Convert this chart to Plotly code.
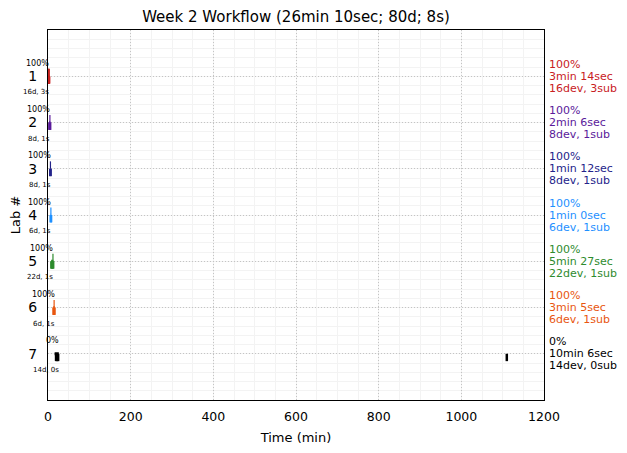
import plotly.graph_objects as go

# ---- data ----
labs = [1, 2, 3, 4, 5, 6, 7]
tick_labels = ["1", "2", "3", "4", "5", "6", "7"]
start_min = [0.0, 3.23, 5.33, 6.53, 7.53, 12.98, 16.07]
end_min = [3.23, 5.33, 6.53, 7.53, 12.98, 16.07, 26.17]
pct_text = ["100%", "100%", "100%", "100%", "100%", "100%", "0%"]
duration_text = ["3min 14sec", "2min 6sec", "1min 12sec", "1min 0sec",
                 "5min 27sec", "3min 5sec", "10min 6sec"]
n_dev = [16, 8, 8, 6, 22, 6, 14]
n_sub = [3, 1, 1, 1, 1, 1, 0]
dev_times = [
    [0.3, 1.1, 1.9, 2.7],
    [3.6, 4.4, 5.1],
    [5.6, 6.2],
    [6.8, 7.3],
    [8.2, 9.6, 11.0, 12.5],
    [13.5, 14.6, 15.5],
    [19.5, 22.0, 24.5, 1110.0],
]
sub_times = [
    [0.8, 1.9, 3.1],
    [4.6],
    [5.9],
    [7.0],
    [12.0],
    [14.8],
    [],
]
colors = ["#c8201e", "#5a1a9a", "#23238a", "#1e90ff", "#2e8b2e", "#e8560f", "#000000"]
title = "Week 2 Workflow (26min 10sec; 80d; 8s)"

fig = go.Figure()
annotations = []

for i, lab in enumerate(labs):
    c = colors[i]
    # duration bar
    fig.add_trace(go.Scatter(x=[start_min[i], end_min[i]], y=[lab, lab], mode="lines",
                             line=dict(color=c, width=3), showlegend=False, hoverinfo="skip"))
    # device ticks (below the line)
    xs, ys = [], []
    for t in dev_times[i]:
        xs += [t, t, None]
        ys += [lab, lab + 0.16, None]
    fig.add_trace(go.Scatter(x=xs, y=ys, mode="lines", line=dict(color=c, width=2.5),
                             showlegend=False, hoverinfo="skip"))
    # submission ticks (above the line)
    xs, ys = [], []
    for t in sub_times[i]:
        xs += [t, t, None]
        ys += [lab - 0.16, lab, None]
    if xs:
        fig.add_trace(go.Scatter(x=xs, y=ys, mode="lines", line=dict(color=c, width=1.2),
                                 showlegend=False, hoverinfo="skip"))

    # left small texts
    annotations.append(dict(x=end_min[i], y=lab, xref="x", yref="y", text=pct_text[i],
                            showarrow=False, xanchor="right", yanchor="middle", yshift=13,
                            xshift=2, font=dict(size=8, color="black")))
    annotations.append(dict(x=end_min[i], y=lab, xref="x", yref="y",
                            text=f"{n_dev[i]}d, {n_sub[i]}s",
                            showarrow=False, xanchor="right", yanchor="middle", yshift=-16,
                            xshift=2, font=dict(size=7, color="black")))
    # right texts
    for txt, ys_ in [(pct_text[i], 12), (duration_text[i], 0),
                     (f"{n_dev[i]}dev, {n_sub[i]}sub", -12)]:
        annotations.append(dict(x=1, y=lab, xref="paper", yref="y", text=txt,
                                showarrow=False, xanchor="left", yanchor="middle",
                                xshift=3, yshift=ys_, font=dict(size=11, color=c)))

fig.update_layout(
    width=627, height=453,
    margin=dict(l=48, r=83, t=30, b=53, autoexpand=False),
    paper_bgcolor="white", plot_bgcolor="white",
    font=dict(family="DejaVu Sans", color="black"),
    title=dict(text=title, x=0.5, xref="paper", y=1 - 17 / 453, yanchor="middle",
               font=dict(size=15, color="black")),
    annotations=annotations,
    showlegend=False,
)
fig.update_xaxes(range=[0, 1200], tickvals=[0, 200, 400, 600, 800, 1000, 1200],
                 ticks="", tickfont=dict(size=12.5), automargin=False,
                 ticklabelstandoff=5,
                 showgrid=True, gridcolor="#c4c4c4", griddash="1px,2px", gridwidth=1,
                 minor=dict(dtick=50, tick0=0, showgrid=True, gridcolor="#f3f3f3",
                            gridwidth=1, griddash="solid"),
                 showline=True, linecolor="black", linewidth=1.2, mirror=True,
                 zeroline=False,
                 title=dict(text="Time (min)", font=dict(size=13), standoff=9))
fig.update_yaxes(range=[8, 0], tickvals=labs, ticktext=tick_labels,
                 ticks="", tickfont=dict(size=14), ticklabelstandoff=7, automargin=False,
                 showgrid=True, gridcolor="#c4c4c4", griddash="1px,2px", gridwidth=1,
                 minor=dict(dtick=0.2, tick0=0, showgrid=True, gridcolor="#f3f3f3",
                            gridwidth=1, griddash="solid"),
                 showline=True, linecolor="black", linewidth=1.2, mirror=True,
                 zeroline=False,
                 title=dict(text="Lab #", font=dict(size=13), standoff=4))

fig.write_html("out.html", config={"displayModeBar": False},
               post_script="document.body.style.margin='0';document.body.style.overflow='hidden';")
